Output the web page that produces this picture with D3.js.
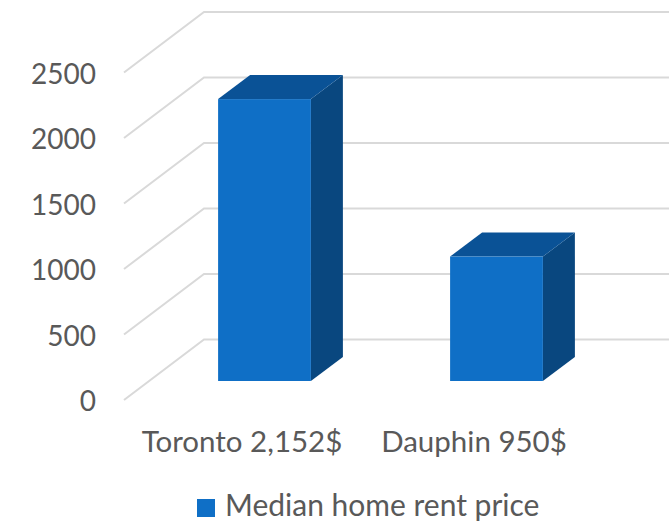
<!DOCTYPE html>
<html>
<head>
<meta charset="utf-8">
<script src="https://cdn.jsdelivr.net/npm/d3@7"></script>
<style>
  html, body { margin: 0; padding: 0; background: #fff; }
  text { font-family: Lato, "Open Sans", sans-serif; fill: #595959; }
</style>
</head>
<body>
<div id="chart"></div>
<script>
var categories = ["Toronto 2,152$", "Dauphin 950$"];
var rentValues = [2152, 950];
var yTicks = [0, 500, 1000, 1500, 2000, 2500];
var seriesName = "Median home rent price";

var width = 669, height = 522;

var svg = d3.select("#chart").append("svg")
  .attr("width", width)
  .attr("height", height)
  .style("display", "block");

// front edge of the floor, the wall sits up and to the right of it
var y = d3.scaleLinear().domain([0, 2500]).range([400, 72.5]);
var x = d3.scaleBand().domain(categories).range([124, 588])
  .paddingInner(0.6).paddingOuter(0.3);

var wallDx = 80, wallDy = -60.5;   // floor depth
var barShiftX = 24.5, barShiftY = -19; // bars stand a bit back from the front edge
var barDx = 32, barDy = -24;       // depth of a bar

// gridlines, diagonal on the side wall then flat along the back
var grid = svg.append("g");
grid.selectAll("path").data(yTicks).enter().append("path")
  .attr("d", function(d) {
    return "M" + x.range()[0] + "," + y(d) +
      "L" + (x.range()[0] + wallDx) + "," + (y(d) + wallDy) +
      "H" + width;
  })
  .attr("fill", "none")
  .attr("stroke", "#d9d9d9")
  .attr("stroke-width", 2);

// Bars
var bars = svg.append("g").selectAll("g")
  .data(rentValues).enter().append("g");

bars.append("path") // side
  .attr("d", function(d, i) {
    var r = x(categories[i]) + barShiftX + x.bandwidth();
    var b = y(0) + barShiftY, t = y(d) + barShiftY;
    return "M" + r + "," + b + "L" + (r + barDx) + "," + (b + barDy) +
      "V" + (t + barDy) + "L" + r + "," + t + "Z";
  })
  .attr("fill", "#09477f");

bars.append("path") // top
  .attr("d", function(d, i) {
    var l = x(categories[i]) + barShiftX;
    var t = y(d) + barShiftY;
    return "M" + l + "," + t + "L" + (l + barDx) + "," + (t + barDy) +
      "h" + x.bandwidth() + "L" + (l + x.bandwidth()) + "," + t + "Z";
  })
  .attr("fill", "#0a5296");

bars.append("rect") // front
  .attr("x", function(d, i) { return x(categories[i]) + barShiftX; })
  .attr("y", function(d) { return y(d) + barShiftY; })
  .attr("width", x.bandwidth())
  .attr("height", function(d) { return y(0) - y(d); })
  .attr("fill", "#0f6fc6");

// Axes
var yAxis = d3.axisLeft(y).tickValues(yTicks).tickSize(0).tickPadding(0).tickFormat(d3.format("d"));
var yG = svg.append("g").attr("transform", "translate(96,2)").call(yAxis);
yG.select(".domain").remove();
yG.selectAll("text").style("font-size", "28px").style("font-family", null);

var xAxis = d3.axisBottom(x).tickSize(0).tickPadding(0);
var xG = svg.append("g").attr("transform", "translate(2,431)").call(xAxis);
xG.select(".domain").remove();
xG.selectAll("text").style("font-size", "29.5px").style("font-family", null);

// Legend
svg.append("rect")
  .attr("x", 197).attr("y", 499)
  .attr("width", 18).attr("height", 18)
  .attr("fill", "#0f6fc6");
svg.append("text")
  .attr("x", 225).attr("y", 516)
  .style("font-size", "30px")
  .text(seriesName);
</script>
</body>
</html>
